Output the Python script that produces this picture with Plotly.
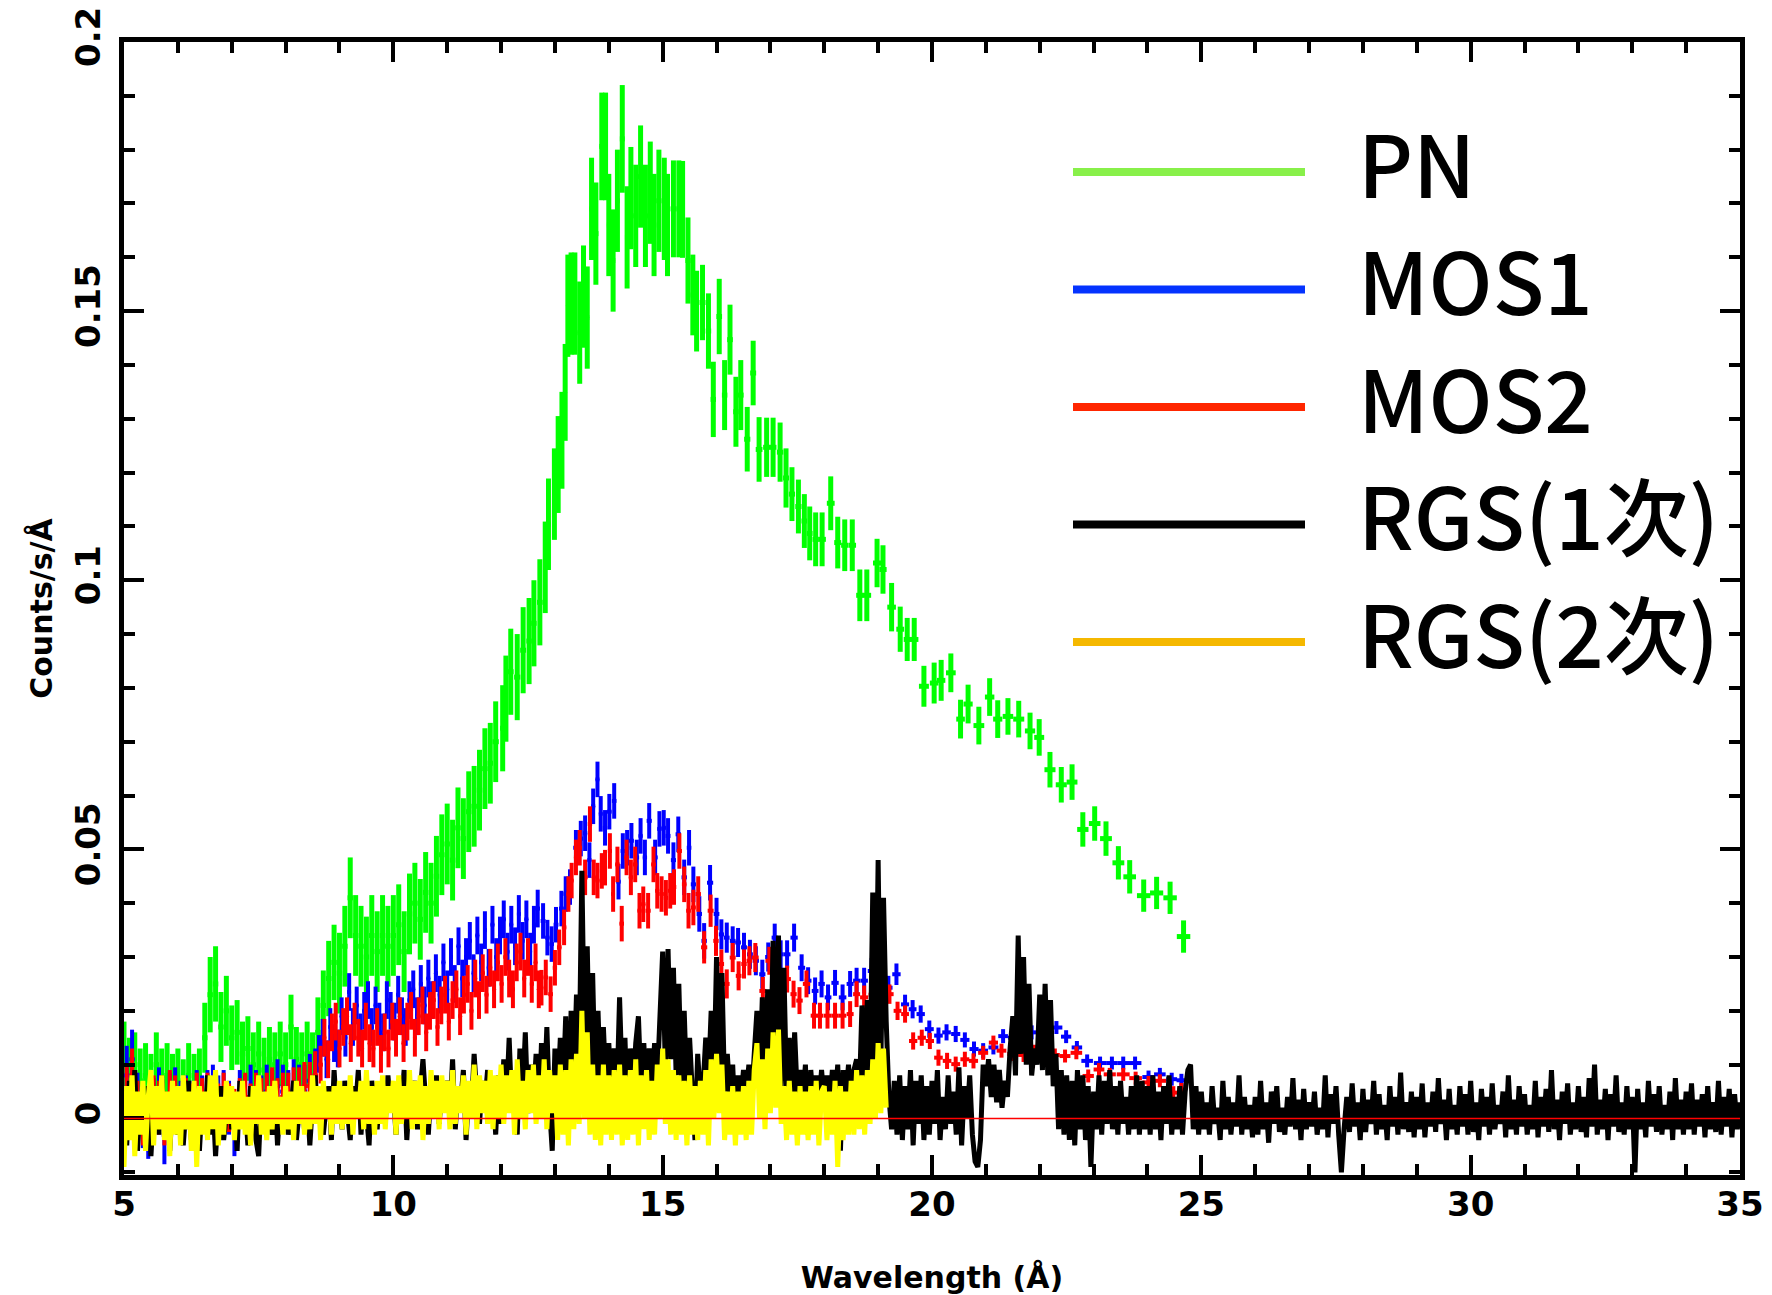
import numpy as np
import plotly.graph_objects as go

# All rate values are typed in units of 1e-4 counts/s/Angstrom
UNIT = 1e-4

# ---------------- EPIC-pn (green) ----------------
pn_wave = [
    5.0, 5.1, 5.2, 5.3, 5.4, 5.5, 5.6, 5.7, 5.8, 5.9,
    6.0, 6.1, 6.2, 6.3, 6.4, 6.5, 6.6, 6.7, 6.8, 6.9,
    7.0, 7.1, 7.2, 7.3, 7.4, 7.5, 7.6, 7.7, 7.8, 7.9,
    8.0, 8.1, 8.2, 8.3, 8.4, 8.5, 8.6, 8.7, 8.8, 8.9,
    9.0, 9.1, 9.2, 9.3, 9.4, 9.5, 9.6, 9.7, 9.8, 9.9,
    10.0, 10.1, 10.2, 10.3, 10.4, 10.5, 10.6, 10.7, 10.8, 10.9,
    11.0, 11.1, 11.2, 11.3, 11.4, 11.5, 11.6, 11.7, 11.8, 11.9,
    12.03, 12.09, 12.18, 12.30, 12.41, 12.52, 12.61, 12.72, 12.82, 12.88,
    12.99, 13.06, 13.13, 13.19, 13.24, 13.30, 13.37, 13.46, 13.53, 13.60,
    13.68, 13.76, 13.87, 13.94, 14.00, 14.08, 14.16, 14.25, 14.34, 14.41,
    14.50, 14.59, 14.68, 14.77, 14.84, 14.93, 15.03, 15.09, 15.20, 15.30,
    15.37, 15.47, 15.56, 15.63, 15.74, 15.85, 15.94, 16.05, 16.15, 16.25,
    16.36, 16.45, 16.57, 16.68, 16.79, 16.93, 17.05, 17.18, 17.29, 17.40,
    17.52, 17.63, 17.73, 17.84, 17.96, 18.12, 18.25, 18.38, 18.52, 18.66,
    18.79, 18.98, 19.09, 19.25, 19.41, 19.54, 19.67, 19.85, 20.04, 20.17,
    20.35, 20.53, 20.67, 20.87, 21.07, 21.22, 21.41, 21.61, 21.82, 21.99,
    22.19, 22.40, 22.60, 22.80, 23.02, 23.23, 23.46, 23.67, 23.93, 24.17,
    24.42, 24.67,
]
pn_rate = [
    120, 90, 100, 70, 80, 60, 100, 70, 80, 60,
    70, 50, 80, 60, 70, 150, 230, 250, 170, 200,
    150, 160, 120, 130, 100, 120, 90, 110, 100, 120,
    100, 170, 110, 100, 120, 100, 160, 210, 260, 290,
    270, 320, 410, 340, 320, 300, 340, 310, 340, 320,
    340, 360, 310, 380, 400, 370, 420, 400, 450, 490,
    510, 480, 540, 520, 570, 580, 610, 650, 660, 700,
    725, 780, 830, 820, 870, 887, 920, 959, 1024, 1104,
    1160, 1215, 1260, 1349, 1510, 1514, 1514, 1460, 1527, 1488,
    1690, 1644, 1806, 1806, 1660, 1594, 1705, 1820, 1637, 1710,
    1677, 1750, 1677, 1720, 1660, 1705, 1690, 1660, 1690, 1690,
    1689, 1594, 1530, 1500, 1516, 1463, 1336, 1490, 1344, 1447,
    1313, 1344, 1262, 1385, 1243, 1247, 1247, 1238, 1190, 1160,
    1137, 1110, 1087, 1076, 1076, 1143, 1070, 1065, 1065, 972,
    972, 1032, 1020, 950, 909, 890, 890, 803, 809, 814,
    828, 742, 770, 730, 783, 742, 747, 742, 720, 708,
    648, 620, 625, 537, 548, 520, 475, 449, 414, 419,
    410, 338,
]
pn_err = [
    60, 60, 60, 60, 60, 60, 60, 60, 60, 60,
    60, 60, 60, 60, 60, 65, 70, 70, 65, 65,
    60, 60, 60, 60, 60, 60, 60, 60, 60, 60,
    60, 60, 60, 60, 60, 60, 65, 65, 70, 70,
    75, 75, 75, 75, 75, 75, 75, 75, 75, 75,
    75, 75, 75, 75, 75, 75, 75, 75, 75, 75,
    75, 75, 75, 75, 75, 75, 75, 75, 75, 75,
    80, 80, 80, 80, 80, 80, 80, 80, 85, 85,
    85, 90, 90, 90, 95, 95, 95, 95, 95, 95,
    95, 95, 100, 100, 95, 95, 95, 100, 95, 95,
    95, 95, 95, 95, 95, 95, 95, 95, 90, 90,
    90, 80, 75, 75, 70, 70, 70, 70, 65, 65,
    65, 65, 60, 60, 60, 55, 55, 55, 55, 50,
    50, 50, 50, 50, 50, 50, 48, 48, 48, 48,
    48, 45, 45, 45, 42, 40, 40, 38, 38, 38,
    36, 36, 36, 35, 35, 35, 34, 34, 34, 34,
    33, 33, 33, 32, 32, 32, 31, 31, 30, 30,
    30, 30,
]

# ---------------- EPIC-MOS1 (blue) ----------------
mos1_wave = [
    5.05, 5.15, 5.25, 5.35, 5.45, 5.55, 5.65, 5.75, 5.85, 5.95,
    6.05, 6.15, 6.25, 6.35, 6.45, 6.55, 6.65, 6.75, 6.85, 6.95,
    7.05, 7.15, 7.25, 7.35, 7.45, 7.55, 7.65, 7.75, 7.85, 7.95,
    8.05, 8.15, 8.25, 8.35, 8.45, 8.55,
    8.62, 8.69, 8.76, 8.83, 8.90, 8.97, 9.04, 9.11, 9.18, 9.25,
    9.32, 9.39, 9.46, 9.53, 9.60, 9.67, 9.74, 9.81, 9.88, 9.95,
    10.02, 10.09, 10.16, 10.23, 10.30, 10.37, 10.44, 10.51, 10.58, 10.65,
    10.72, 10.79, 10.86, 10.93, 11.00, 11.07, 11.14, 11.21, 11.28, 11.35,
    11.42, 11.49, 11.56, 11.63, 11.70, 11.77, 11.84, 11.91, 11.98, 12.05,
    12.12, 12.19, 12.26, 12.33, 12.40, 12.47, 12.54, 12.61, 12.68,
    12.78, 12.86, 12.94, 13.02, 13.12, 13.20, 13.28, 13.39, 13.48, 13.56,
    13.64, 13.71, 13.79, 13.85, 13.93, 14.01, 14.10, 14.18, 14.26, 14.34,
    14.42, 14.52, 14.59, 14.67, 14.75, 14.86, 14.94, 15.02, 15.10, 15.20,
    15.29, 15.40, 15.49, 15.57, 15.68, 15.77, 15.88, 16.00, 16.09, 16.19,
    16.30, 16.40, 16.51, 16.62, 16.73, 16.85, 16.96, 17.08, 17.19, 17.31,
    17.44, 17.58, 17.70, 17.83, 17.95, 18.07, 18.20, 18.34, 18.48, 18.60,
    18.74, 18.88, 19.03, 19.19, 19.34, 19.50, 19.64, 19.79, 19.95, 20.12,
    20.27, 20.44, 20.61, 20.78, 20.95, 21.14, 21.32, 21.50, 21.68, 21.85,
    22.05, 22.31, 22.49, 22.69, 22.88, 23.12, 23.34, 23.55, 23.77, 24.02,
    24.23, 24.45, 24.63,
]
mos1_rate = [
    80, 110, 30, 0, -20, 20, 40, -30, 30, 40,
    20, 30, 20, 40, 30, 40, 50, 30, 40, 20,
    -20, 40, 30, 50, 40, 30, 50, 40, 60, 50,
    40, 60, 50, 50, 70, 80,
    120, 150, 110, 170, 140, 130, 190, 150, 235, 170,
    210, 160, 200, 220, 170, 210, 180, 160, 220, 200,
    180, 230, 190, 170, 220, 240, 190, 250, 210, 260,
    220, 270, 230, 290, 240, 300, 250, 320, 260, 300,
    330, 270, 340, 290, 350, 280, 360, 300, 340, 370,
    310, 360, 320, 380, 330, 370, 310, 360, 390,
    367, 336, 324, 360, 390, 417, 430, 503, 520, 530,
    480, 580, 630, 566, 540, 570, 590, 440, 497, 503,
    516, 485, 525, 485, 553, 485, 538, 540, 525, 480,
    528, 448, 503, 435, 380, 330, 438, 380, 342, 336,
    330, 327, 318, 305, 293, 268, 300, 336, 305, 305,
    336, 280, 256, 237, 250, 225, 252, 225, 250, 256,
    256, 274, 237, 243, 268, 212, 203, 194, 166, 154,
    160, 157, 146, 129, 126, 132, 153, 150, 155, 160,
    150, 169, 152, 132, 107, 103, 103, 103, 103, 77,
    82, 73, 71,
]
mos1_err = [
    55, 55, 55, 55, 55, 55, 55, 55, 55, 55,
    50, 50, 50, 50, 50, 50, 50, 50, 50, 50,
    50, 50, 50, 50, 50, 50, 50, 50, 50, 50,
    50, 50, 50, 50, 50, 50,
    35, 35, 35, 35, 35, 35, 35, 35, 35, 35,
    35, 35, 35, 35, 35, 35, 35, 35, 35, 35,
    35, 35, 35, 35, 35, 35, 35, 35, 35, 35,
    35, 35, 35, 35, 35, 35, 35, 35, 35, 35,
    35, 35, 35, 35, 35, 35, 35, 35, 35, 35,
    35, 35, 35, 35, 35, 35, 35, 35, 35,
    33, 33, 33, 33, 33, 33, 33, 33, 33, 33,
    33, 33, 33, 33, 33, 33, 33, 33, 33, 33,
    33, 33, 33, 33, 33, 33, 33, 33, 33, 33,
    33, 33, 33, 33, 33, 33, 33, 30, 28, 28,
    27, 27, 27, 27, 27, 27, 27, 26, 26, 26,
    26, 25, 25, 25, 25, 24, 24, 24, 24, 24,
    24, 24, 22, 22, 20, 18, 17, 16, 16, 15,
    15, 15, 14, 14, 14, 13, 13, 13, 13, 13,
    12, 12, 12, 12, 12, 12, 12, 12, 12, 12,
    12, 12, 12,
]

# ---------------- EPIC-MOS2 (red) ----------------
mos2_wave = [
    5.05, 5.15, 5.25, 5.35, 5.45, 5.55, 5.65, 5.75, 5.85, 5.95,
    6.05, 6.15, 6.25, 6.35, 6.45, 6.55, 6.65, 6.75, 6.85, 6.95,
    7.05, 7.15, 7.25, 7.35, 7.45, 7.55, 7.65, 7.75, 7.85, 7.95,
    8.05, 8.15, 8.25, 8.35, 8.45, 8.55,
    8.65, 8.72, 8.79, 8.86, 8.93, 9.00, 9.07, 9.14, 9.21, 9.28,
    9.35, 9.42, 9.49, 9.56, 9.63, 9.70, 9.77, 9.84, 9.91, 9.98,
    10.05, 10.12, 10.19, 10.26, 10.33, 10.40, 10.47, 10.54, 10.61, 10.68,
    10.75, 10.82, 10.89, 10.96, 11.03, 11.10, 11.17, 11.24, 11.31, 11.38,
    11.45, 11.52, 11.59, 11.66, 11.73, 11.80, 11.87, 11.94, 12.01, 12.08,
    12.15, 12.22, 12.29, 12.36, 12.43, 12.50, 12.57, 12.64, 12.70,
    12.75, 12.83, 12.92, 13.00, 13.08, 13.17, 13.25, 13.31, 13.39, 13.46,
    13.56, 13.65, 13.72, 13.79, 13.87, 13.93, 14.02, 14.08, 14.16, 14.24,
    14.33, 14.41, 14.49, 14.57, 14.64, 14.73, 14.83, 14.90, 14.98, 15.06,
    15.14, 15.21, 15.31, 15.40, 15.48, 15.57, 15.66, 15.77, 15.89, 15.99,
    16.09, 16.19, 16.30, 16.41, 16.51, 16.61, 16.72, 16.86, 16.98, 17.15,
    17.31, 17.43, 17.54, 17.67, 17.81, 17.92, 18.06, 18.20, 18.34, 18.48,
    18.60, 18.74, 18.90, 19.05, 19.21, 19.36, 19.50, 19.65, 19.81, 19.96,
    20.12, 20.28, 20.44, 20.61, 20.77, 20.95, 21.14, 21.29, 21.50, 21.70,
    21.90, 22.10, 22.28, 22.47, 22.68, 22.90, 23.10, 23.30, 23.55, 23.78,
    24.02, 24.23, 24.48, 24.63,
]
mos2_rate = [
    50, 80, 20, 0, 10, 30, 20, 0, 40, 30,
    10, 30, 20, 40, 30, 40, 30, 20, 40, 20,
    10, 30, 40, 20, 40, 30, 40, 50, 30, 40,
    40, 50, 50, 60, 60, 80,
    100, 150, 110, 160, 180, 130, 170, 190, 140, 180,
    150, 130, 180, 140, 130, 170, 120, 160, 130, 180,
    150, 190, 140, 180, 200, 150, 190, 210, 160, 200,
    220, 170, 210, 230, 180, 220, 240, 190, 230, 250,
    200, 260, 220, 270, 230, 280, 240, 290, 250, 300,
    260, 240, 290, 310, 260, 300, 250, 290, 240,
    243, 262, 231, 280, 318, 355, 417, 442, 485, 503,
    448, 547, 448, 442, 460, 466, 497, 417, 472, 362,
    485, 448, 472, 386, 398, 386, 472, 423, 417, 410,
    423, 430, 497, 435, 386, 392, 417, 318, 386, 330,
    287, 250, 299, 265, 287, 293, 299, 237, 293, 250,
    259, 231, 219, 250, 191, 191, 191, 191, 191, 194,
    231, 225, 230, 215, 231, 200, 194, 144, 150, 144,
    113, 107, 101, 110, 107, 122, 141, 126, 120, 118,
    125, 120, 118, 116, 122, 79, 91, 82, 82, 75,
    67, 70, 48, 54,
]
mos2_err = [
    50, 50, 50, 50, 50, 50, 50, 50, 50, 50,
    45, 45, 45, 45, 45, 45, 45, 45, 45, 45,
    45, 45, 45, 45, 45, 45, 45, 45, 45, 45,
    45, 45, 45, 45, 45, 45,
    35, 35, 35, 35, 35, 35, 35, 35, 35, 35,
    35, 35, 35, 35, 35, 35, 35, 35, 35, 35,
    35, 35, 35, 35, 35, 35, 35, 35, 35, 35,
    35, 35, 35, 35, 35, 35, 35, 35, 35, 35,
    35, 35, 35, 35, 35, 35, 35, 35, 35, 35,
    35, 35, 35, 35, 35, 35, 35, 35, 35,
    33, 33, 33, 33, 33, 33, 33, 33, 33, 33,
    33, 33, 33, 33, 33, 33, 33, 33, 33, 33,
    33, 33, 33, 33, 33, 33, 33, 33, 33, 33,
    33, 33, 33, 33, 33, 33, 33, 30, 30, 28,
    27, 27, 27, 27, 27, 27, 27, 26, 26, 26,
    25, 25, 25, 25, 24, 24, 24, 24, 24, 24,
    24, 22, 22, 20, 18, 17, 16, 16, 15, 15,
    15, 15, 14, 14, 14, 13, 13, 13, 13, 13,
    12, 12, 12, 12, 12, 12, 12, 12, 12, 12,
    12, 12, 12, 12,
]

# ---------------- RGS 1st order (black), 0.05 A bins from 5.00 ----------------
rgs_start = 5.0
rgs_step = 0.05
rgs1_rate = [
    40, -50, 70, -20, 90, -60, 30, 10, -40, 60, -70, 20, 50, -30, 80, -10, 40, -60, 30, 10,
    -30, 60, -50, 20, 70, -40, 10, 50, -60, 30, -20, 80, -30, 40, -70, 20, 60, -40, 10, 50,
    -20, 40, -60, 70, -10, 30, -50, 60, 20, -40, -70, 50, -20, 40, 10, -30, 60, -50, 30, -10,
    50, -30, 20, 70, -40, 10, 60, -20, 40, -50, 30, 80, -10, 50, -30, 20, 60, -40, 90, 10,
    40, -20, 70, 10, -40, 60, 20, 90, -30, 50, 10, -50, 70, 30, -20, 60, 40, -10, 80, 20,
    50, -30, 60, 20, 90, -40, 40, 10, 70, -20, 50, 110, 30, -30, 60, 20, 80, -10, 50, 30,
    70, 10, 110, -20, 60, 30, 90, -40, 50, 20, 120, 40, -10, 70, 30, 90, 10, 60, -30, 80,
    -10, 110, 30, 150, 20, 90, -30, 130, 40, 160, 10, 100, 30, 120, 0, 140, 40, 170, 20, -60,
    130, 40, 150, 50, 190, -20, 200, 60, 230, 100, 460, 120, 320, 60, 270, 50, 200, 40, 170, 50,
    140, 50, 130, 40, 225, 60, 150, -10, 130, 50, 140, 190, 50, 140, 40, 130, 60, 140, 70, 190,
    310, 90, 315, 110, 280, 80, 250, 60, 200, 40, 150, 50, -40, 120, 40, 60, 150, 70, 200, 60,
    300, 60, 270, 50, 120, 40, 100, -20, 80, 30, 90, 40, 100, 30, 120, 200, 60, 225, 50, 240,
    80, 330, 90, 340, 60, 280, 50, 150, 30, 160, 40, 90, 30, 100, -30, 90, 20, 80, 30, 90,
    30, 80, 20, 90, 30, 100, -60, 90, 40, 100, 30, 90, 110, 40, 210, 60, 220, 80, 420, 90,
    480, 100, 410, 180, 40, -20, 70, -30, 80, -40, 60, -20, 90, -50, 70, -10, 80, -40, 60, -30,
    70, -10, 90, -40, 40, -20, 80, -10, 50, -30, 95, -50, 60, 0, 80, -30, -80, -90, -40, 100,
    60, 110, 40, 100, 30, 90, 20, 70, 40, 130, 190, 80, 340, 120, 300, 100, 250, 80, 130, 100,
    230, 90, 250, 80, 220, 60, 120, -20, 90, -30, 80, -40, 70, -50, 90, -20, 80, -40, 60, -90,
    50, -20, 80, -30, 70, -10, 90, -20, 60, -30, 70, -10, 40, -30, 60, -20, 80, -30, 70, -20,
    60, -30, 80, -20, 50, -40, 60, -10, 80, -30, 40, -20, 60, -30, 50, 90, 100, -20, 60, -30,
    50, -20, 30, -30, 60, -10, 20, -40, 70, -20, 40, -30, 30, -15, 80, -30, 40, -20, 25, -35,
    40, -30, 70, -20, 30, -45, 50, -10, 60, -25, 20, -30, 40, -15, 75, -20, 35, -40, 55, -20,
    30, -15, 50, -30, 20, -20, 80, -35, 45, -10, 60, -30, -100, -20, 40, -25, 65, -15, 30, -40,
    55, -25, 35, -10, 70, -30, 45, -20, 25, -40, 60, -15, 40, -30, 85, -20, 30, -25, 50, -35,
    40, -20, 65, -35, 30, -15, 50, -25, 75, -10, 35, -40, 55, -20, 25, -30, 60, -15, 45, -30,
    70, -25, 30, -40, 55, -15, 40, -30, 65, -20, 25, -10, 50, -35, 80, -20, 35, -30, 60, -15,
    45, -30, 25, -20, 70, -35, 40, -15, 55, -25, 90, -20, 35, -40, 50, -10, 65, -30, 30, -20,
    60, -25, 40, -35, 75, -15, 100, -30, 35, -20, 55, -40, 45, -15, 80, -25, 30, -30, 60, -20,
    40, -100, 55, -20, 30, -35, 70, -15, 45, -25, 60, -30, 25, -20, 50, -40, 75, -20, 35, -30,
    50, -20, 65, -30, 35, -15, 45, -35, 60, -20, 30, -25, 70, -30, 40, -15, 55, -35, 45, -20,
    30,
]

# ---------------- RGS 2nd order (yellow), 0.05 A bins from 5.00 ----------------
rgs2_rate = [
    -90, 60, -40, 80, -70, 50, -30, 70, -60, 40, 90, -50, 60, -20, 80, -40, 50, -70, 70, -30,
    60, -50, 80, -20, 50, -60, 70, -90, 60, -30, 50, -40, 80, -20, 90, -50, 40, -30, 70, -10,
    60, -40, 50, -20, 70, -30, 40, -50, 60, -10, 80, -30, 50, -40, 60, -20, 70, -10, 40, -30,
    60, -20, 50, -40, 70, -10, 60, -30, 50, -20, 80, -10, 60, -40, 70, 0, 50, -30, 60, -10,
    70, -20, 60, -10, 80, -30, 50, 0, 70, -20, 90, -10, 60, -30, 70, -10, 80, -20, 60, 10,
    70, -30, 80, -10, 60, 0, 90, -20, 70, -10, 80, -40, 60, -10, 90, 0, 70, -20, 80, 10,
    70, -20, 90, -10, 60, 10, 80, -30, 70, 0, 100, -20, 80, 10, 70, -10, 90, -20, 80, 0,
    100, -10, 80, 10, 90, -30, 110, 0, 70, -20, 90, 10, 100, -10, 80, 0, 110, -20, 90, 10,
    80, -40, 100, -30, 90, -50, 110, -20, 120, -10, 200, 0, 160, -30, 100, -40, 80, -50, 100, -30,
    80, -40, 90, -30, 100, -50, 80, -40, 90, -30, 110, -50, 80, -20, 90, -40, 70, -30, 100, 0,
    130, -10, 110, -30, 90, -40, 80, -30, 70, -50, 80, -30, 60, -40, 70, -30, 90, -50, 110, 0,
    120, 10, 100, -40, 50, -30, 60, -50, 50, -30, 60, -40, 70, -30, 90, 140, 0, 110, -20, 130,
    10, 160, 20, 165, -10, 60, -40, 70, -30, 50, -50, 60, -30, 50, -40, 60, -30, 70, -50, 50,
    60, -40, 50, -30, 70, -90, 60, -40, 50, -30, 70, -30, 90, -20, 80, -30, 90, -10, 110, 0,
    140, 10, 130, 20,
]

# ---------------- axes / legend text ----------------
x_range = [5, 35]
y_range = [-0.0105, 0.2]
x_tickvals = [5, 10, 15, 20, 25, 30, 35]
x_ticktext = ["5", "10", "15", "20", "25", "30", "35"]
y_tickvals = [0, 0.05, 0.1, 0.15, 0.2]
y_ticktext = ["0", "0.05", "0.1", "0.15", "0.2"]
legend_labels = ["PN", "MOS1", "MOS2", "RGS(1次)", "RGS(2次)"]
legend_colors = ["#88F04A", "#0433FF", "#FF2600", "#000000", "#F5B800"]

for a, b, c in [(pn_wave, pn_rate, pn_err), (mos1_wave, mos1_rate, mos1_err),
                (mos2_wave, mos2_rate, mos2_err)]:
    assert len(a) == len(b) == len(c), (len(a), len(b), len(c))


def binned(wave, rate, err):
    w = np.asarray(wave, float)
    halfw = np.gradient(w) / 2.0
    return w, np.asarray(rate, float) * UNIT, np.asarray(err, float) * UNIT, halfw


fig = go.Figure()


def add_err_series(wave, rate, err, color, thick, name):
    w, r, e, hw = binned(wave, rate, err)
    fig.add_trace(go.Scatter(
        x=w, y=r, mode="markers", name=name,
        marker=dict(color=color, size=4),
        error_y=dict(type="data", array=e, visible=True, color=color,
                     thickness=thick, width=0),
        error_x=dict(type="data", array=hw, visible=True, color=color,
                     thickness=thick, width=0),
        showlegend=False, hoverinfo="skip"))


add_err_series(pn_wave, pn_rate, pn_err, "#00FF00", 5, "PN")
add_err_series(mos1_wave, mos1_rate, mos1_err, "#0000FF", 4, "MOS1")
add_err_series(mos2_wave, mos2_rate, mos2_err, "#FF0000", 4, "MOS2")

rgs1_wave = np.round(rgs_start + rgs_step * np.arange(len(rgs1_rate)), 3)
rgs2_wave = np.round(rgs_start + rgs_step * np.arange(len(rgs2_rate)), 3)

fig.add_trace(go.Scatter(x=rgs1_wave, y=np.asarray(rgs1_rate) * UNIT, mode="lines",
                         line=dict(color="#000000", width=5, simplify=False),
                         showlegend=False, hoverinfo="skip", name="RGS(1次)"))
fig.add_trace(go.Scatter(x=rgs2_wave, y=np.asarray(rgs2_rate) * UNIT, mode="lines",
                         line=dict(color="#FFFF00", width=5, simplify=False),
                         showlegend=False, hoverinfo="skip", name="RGS(2次)"))

# zero reference line drawn over the data
fig.add_shape(type="line", xref="x domain", x0=0, x1=1, yref="y", y0=0, y1=0,
              line=dict(color="#FF0000", width=1.6), layer="above")

# manual legend (long coloured bars + large labels)
L = dict(l=124, r=32, t=42, b=120)
W, H = 1772, 1295
pw, ph = W - L["l"] - L["r"], H - L["t"] - L["b"]
leg_x0 = (1073 - L["l"]) / pw
leg_x1 = (1305 - L["l"]) / pw
leg_tx = (1356 - L["l"]) / pw
for i, (lab, col) in enumerate(zip(legend_labels, legend_colors)):
    ypix = 172 + i * 117.5
    yp = 1 - (ypix - L["t"]) / ph
    fig.add_shape(type="line", xref="paper", yref="paper", x0=leg_x0, x1=leg_x1,
                  y0=yp, y1=yp, line=dict(color=col, width=8), layer="above")
    fig.add_annotation(xref="paper", yref="paper", x=leg_tx, y=yp + 12 / ph,
                       text=lab, showarrow=False, xanchor="left", yanchor="middle",
                       font=dict(family="Noto Sans CJK JP", size=85, color="#000000",
                                 weight=500))

tick_font = dict(family="DejaVu Sans", size=34, color="#000000", weight="bold")
title_font = dict(family="DejaVu Sans", size=30, color="#000000", weight="bold")

axis_common = dict(showline=True, linecolor="#000000", linewidth=4.5, mirror="ticks",
                   ticks="inside", ticklen=20, tickwidth=4, tickcolor="#000000",
                   showgrid=False, zeroline=False, automargin=False,
                   tickfont=tick_font, title_font=title_font)

fig.update_xaxes(range=x_range, tickvals=x_tickvals, ticktext=x_ticktext,
                 minor=dict(ticks="inside", dtick=1, tick0=0, ticklen=11, tickwidth=4,
                            tickcolor="#000000", showgrid=False),
                 title=dict(text="Wavelength (Å)", standoff=47),
                 ticklabelstandoff=-5, **axis_common)
fig.update_yaxes(range=y_range, tickvals=y_tickvals, ticktext=y_ticktext, tickangle=-90,
                 minor=dict(ticks="inside", dtick=0.01, tick0=0, ticklen=11, tickwidth=4,
                            tickcolor="#000000", showgrid=False),
                 title=dict(text="Counts/s/Å", standoff=8),
                 ticklabelstandoff=6, **axis_common)

fig.update_layout(width=W, height=H, margin=L, paper_bgcolor="#FFFFFF",
                  plot_bgcolor="#FFFFFF", showlegend=False)

fig.write_html("out.html")
